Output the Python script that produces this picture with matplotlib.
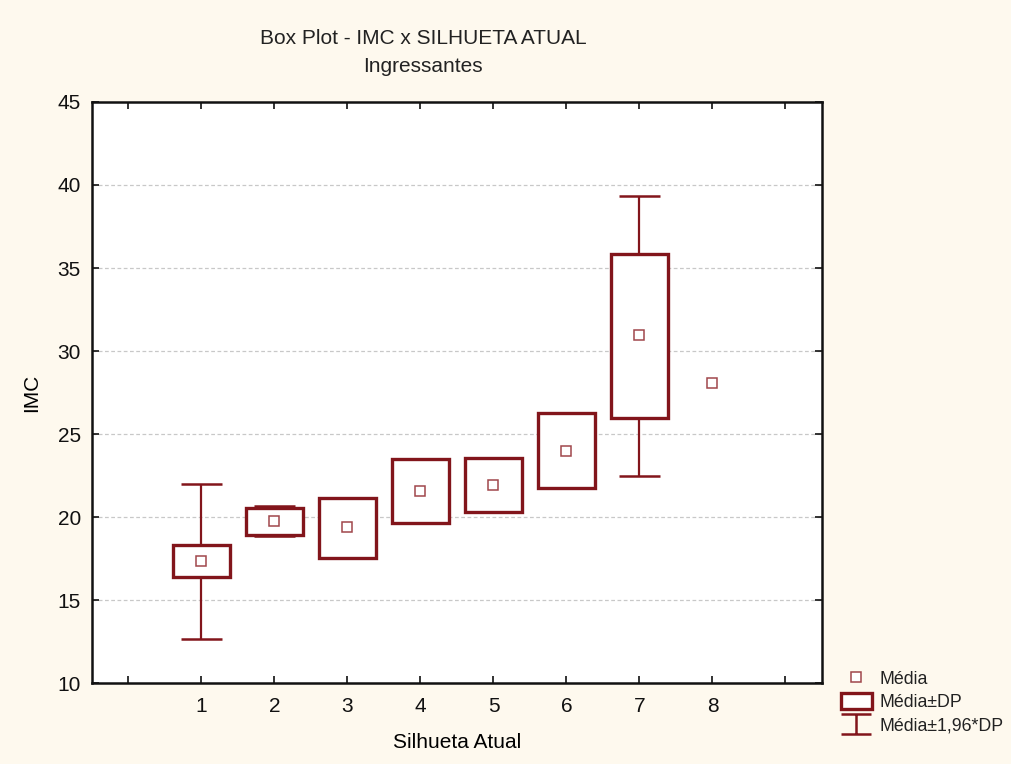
import numpy as np
import matplotlib.pyplot as plt
from matplotlib.path import Path
from matplotlib.patches import Rectangle
from matplotlib.lines import Line2D

# valores
silhueta = [1, 2, 3, 4, 5, 6, 7, 8]
media = [17.35, 19.76, 19.40, 21.57, 21.93, 23.98, 30.96, 28.07]
dp_inf = [16.39, 18.92, 17.56, 19.64, 20.30, 21.75, 25.96, np.nan]
dp_sup = [18.31, 20.54, 21.14, 23.49, 23.55, 26.27, 35.84, np.nan]
ic_inf = [12.65, 18.86, 17.56, 19.64, 20.30, 21.75, 22.47, np.nan]
ic_sup = [21.99, 20.66, 21.14, 23.49, 23.55, 26.27, 39.34, np.nan]

cor = '#82151b'
fundo = '#fef9ee'
txt = '#222222'

plt.rcParams['font.family'] = ['Liberation Sans', 'DejaVu Sans']
plt.rcParams['text.color'] = txt

fig = plt.figure(figsize=(10.11, 7.64), dpi=100, facecolor=fundo)
ax = fig.add_axes([0.091, 0.106, 0.722, 0.7605])
ax.set_facecolor('white')

larg_caixa = 0.78
larg_cap = 0.56

for x, m, dl, dh, il, ih in zip(silhueta, media, dp_inf, dp_sup, ic_inf, ic_sup):
    if not np.isnan(il):
        ax.vlines(x, il, ih, color=cor, lw=1.6, zorder=2)
        ax.hlines([il, ih], x - larg_cap / 2, x + larg_cap / 2, color=cor, lw=1.8, zorder=2)
    if not np.isnan(dl):
        ax.add_patch(Rectangle((x - larg_caixa / 2, dl), larg_caixa, dh - dl,
                               facecolor='white', edgecolor=cor, lw=2.4, zorder=3))
ax.plot(silhueta, media, ls='none', marker='s', ms=7, mfc='white', mec='#a0474b',
        mew=1.1, zorder=4)

ax.set_xlim(-0.5, 9.5)
ax.set_ylim(10, 45)
ax.set_xticks(range(10))
ax.set_xticklabels([''] + [str(s) for s in silhueta] + [''])
ax.set_yticks(range(10, 46, 5))
ax.tick_params(direction='in', length=5, width=1.2, top=True, right=True,
               labelsize=15, colors='#111111', pad=10)
ax.tick_params(axis='y', pad=8)
for sp in ax.spines.values():
    sp.set_linewidth(1.8)
    sp.set_color('#111111')

for y in range(15, 45, 5):
    ax.axhline(y, color='#c8c8c8', lw=0.9, ls=(0, (3, 2)), zorder=1)

ax.set_xlabel('Silhueta Atual', fontsize=15, labelpad=12)
ax.set_ylabel('IMC', fontsize=15, labelpad=12)

fig.text(423 / 1011, 1 - 38 / 764, 'Box Plot - IMC x SILHUETA ATUAL', ha='center',
         va='center', fontsize=15)
fig.text(423 / 1011, 1 - 67 / 764, 'Ingressantes', ha='center', va='center', fontsize=15)

# símbolo da legenda para o intervalo 1,96*DP
simbolo_ic = Path([(-1, -0.64), (1, -0.64), (0, -0.64), (0, 0.64), (-1, 0.64), (1, 0.64)],
                  [Path.MOVETO, Path.LINETO, Path.MOVETO, Path.LINETO,
                   Path.MOVETO, Path.LINETO])
handles = [
    Line2D([], [], ls='none', marker='s', ms=7, mfc='white', mec='#a0474b', mew=1.1),
    Rectangle((0, 0), 1, 1, facecolor='white', edgecolor=cor, lw=2.4),
    Line2D([], [], ls='none', marker=simbolo_ic, ms=22, mfc='none', mec=cor, mew=1.8),
]
fig.legend(handles, ['Média', 'Média±DP', 'Média±1,96*DP'], loc='upper left',
           bbox_to_anchor=(832 / 1011, 1 - 661 / 764), frameon=False, fontsize=12.8,
           handlelength=1.75, handleheight=0.95, handletextpad=0.4, labelspacing=0.32,
           borderpad=0)

fig.savefig('out.png', dpi=100, facecolor=fundo)
